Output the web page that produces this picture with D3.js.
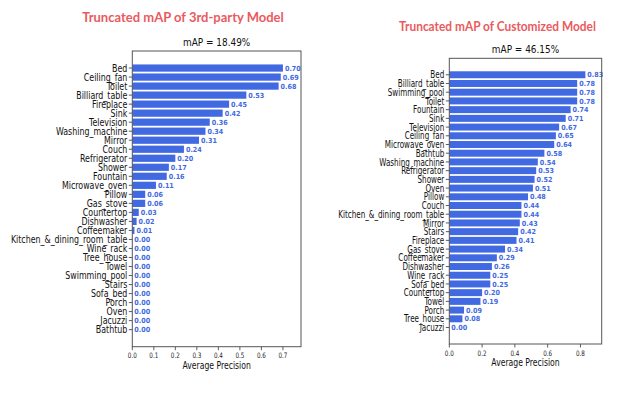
<!DOCTYPE html>
<html>
<head>
<meta charset="utf-8">
<script src="https://cdn.jsdelivr.net/npm/d3@7"></script>
<style>
  body { margin: 0; background: #fff; }
  svg text { font-family: "DejaVu Sans", sans-serif; }
</style>
</head>
<body>
<div id="chart"></div>
<script>
// --- data ---
const catsA = ["Bed", "Ceiling_fan", "Toilet", "Billiard_table", "Fireplace", "Sink", "Television",
  "Washing_machine", "Mirror", "Couch", "Refrigerator", "Shower", "Fountain", "Microwave_oven",
  "Pillow", "Gas_stove", "Countertop", "Dishwasher", "Coffeemaker", "Kitchen_&_dining_room_table",
  "Wine_rack", "Tree_house", "Towel", "Swimming_pool", "Stairs", "Sofa_bed", "Porch", "Oven",
  "Jacuzzi", "Bathtub"];
const valsA = [0.70, 0.69, 0.68, 0.53, 0.45, 0.42, 0.36, 0.34, 0.31, 0.24, 0.20, 0.17, 0.16, 0.11,
  0.06, 0.06, 0.03, 0.02, 0.01, 0, 0, 0, 0, 0, 0, 0, 0, 0, 0, 0];
const ticksA = [0, 0.1, 0.2, 0.3, 0.4, 0.5, 0.6, 0.7];

const catsB = ["Bed", "Billiard_table", "Swimming_pool", "Toilet", "Fountain", "Sink", "Television",
  "Ceiling_fan", "Microwave_oven", "Bathtub", "Washing_machine", "Refrigerator", "Shower", "Oven",
  "Pillow", "Couch", "Kitchen_&_dining_room_table", "Mirror", "Stairs", "Fireplace", "Gas_stove",
  "Coffeemaker", "Dishwasher", "Wine_rack", "Sofa_bed", "Countertop", "Towel", "Porch",
  "Tree_house", "Jacuzzi"];
const valsB = [0.83, 0.78, 0.78, 0.78, 0.74, 0.71, 0.67, 0.65, 0.64, 0.58, 0.54, 0.53, 0.52, 0.51,
  0.48, 0.44, 0.44, 0.43, 0.42, 0.41, 0.34, 0.29, 0.26, 0.25, 0.25, 0.20, 0.19, 0.09, 0.08, 0.00];
const ticksB = [0, 0.2, 0.4, 0.6, 0.8];

const titles = ["Truncated mAP of 3rd-party Model", "Truncated mAP of Customized Model"];
const subtitles = ["mAP = 18.49%", "mAP = 46.15%"];
const xLabel = "Average Precision";

const W = 623, H = 394;
const barColor = "#4169e1";
const titleColor = "#ea5a5e";

const svg = d3.select("#chart").append("svg")
  .attr("width", W).attr("height", H);

// squeeze text horizontally, anchored at its own x/y
function squeeze(sel, sx) {
  sel.each(function () {
    const t = d3.select(this);
    const x = +t.attr("x") || 0, y = +t.attr("y") || 0;
    t.attr("transform", `translate(${x},${y}) scale(${sx},1) translate(${-x},${-y})`);
  });
}

function drawPanel(p) {
  const x = d3.scaleLinear().domain([0, d3.max(p.vals) * 1.12]).range([p.left, p.right]);
  const n = p.cats.length;
  const pad = (n - 1 + 0.8) * 0.05;
  const y = d3.scaleLinear().domain([-0.4 - pad, n - 1 + 0.4 + pad]).range([p.top, p.bottom]);
  const bh = y(0.8) - y(0);

  const g = svg.append("g");

  // title + subtitle
  g.append("text")
    .attr("x", p.titleX).attr("y", p.titleY)
    .attr("text-anchor", "middle")
    .style("font-family", "Lato, sans-serif")
    .style("font-weight", "bold")
    .style("font-size", "14px")
    .attr("fill", titleColor)
    .text(p.title)
    .call(squeeze, p.titleSx);

  g.append("text")
    .attr("x", (p.left + p.right) / 2).attr("y", p.subY)
    .attr("text-anchor", "middle")
    .style("font-size", "10.5px")
    .attr("fill", "#111")
    .text(p.sub)
    .call(squeeze, 0.85);

  // bars
  g.selectAll("rect.bar").data(p.vals).join("rect")
    .attr("class", "bar")
    .attr("x", x(0))
    .attr("y", (d, i) => y(i) - bh / 2)
    .attr("width", d => x(d) - x(0))
    .attr("height", bh)
    .attr("fill", barColor);

  // value labels
  g.selectAll("text.val").data(p.vals).join("text")
    .attr("class", "val")
    .attr("x", d => x(d) + 2)
    .attr("y", (d, i) => y(i) + 2.6)
    .style("font-size", "7px")
    .style("font-weight", "bold")
    .attr("fill", barColor)
    .text(d => d.toFixed(2))
    .call(squeeze, 0.92);

  // y ticks + labels
  g.selectAll("line.ytick").data(p.cats).join("line")
    .attr("x1", p.left - 3.5).attr("x2", p.left)
    .attr("y1", (d, i) => y(i)).attr("y2", (d, i) => y(i))
    .attr("stroke", "#333").attr("stroke-width", 0.8);

  g.selectAll("text.ylab").data(p.cats).join("text")
    .attr("class", "ylab")
    .attr("x", p.left - 5)
    .attr("y", (d, i) => y(i) + 3.6)
    .attr("text-anchor", "end")
    .style("font-size", "10px")
    .attr("fill", "#111")
    .text(d => d)
    .call(squeeze, p.labSx);

  // x ticks + labels
  g.selectAll("line.xtick").data(p.ticks).join("line")
    .attr("x1", d => x(d)).attr("x2", d => x(d))
    .attr("y1", p.bottom).attr("y2", p.bottom + 3.5)
    .attr("stroke", "#333").attr("stroke-width", 0.8);

  g.selectAll("text.xlab").data(p.ticks).join("text")
    .attr("class", "xlab")
    .attr("x", d => x(d))
    .attr("y", p.tickY)
    .attr("text-anchor", "middle")
    .style("font-size", "7.5px")
    .attr("fill", "#222")
    .text(d => d.toFixed(1))
    .call(squeeze, 0.75);

  g.append("text")
    .attr("x", (p.left + p.right) / 2).attr("y", p.labY)
    .attr("text-anchor", "middle")
    .style("font-size", "10px")
    .attr("fill", "#111")
    .text(xLabel)
    .call(squeeze, 0.77);

  // frame
  g.append("rect")
    .attr("x", p.left).attr("y", p.top)
    .attr("width", p.right - p.left).attr("height", p.bottom - p.top)
    .attr("fill", "none").attr("stroke", "#555").attr("stroke-width", 1);
}

drawPanel({
  cats: catsA, vals: valsA, ticks: ticksA, title: titles[0], sub: subtitles[0],
  left: 132.3, right: 301, top: 51, bottom: 346.7,
  titleX: 183, titleY: 22.5, subY: 46.5, tickY: 358.3, labY: 368.7,
  titleSx: 0.93, labSx: 0.79
});

drawPanel({
  cats: catsB, vals: valsB, ticks: ticksB, title: titles[1], sub: subtitles[1],
  left: 449.3, right: 601.7, top: 58.3, bottom: 344,
  titleX: 497.5, titleY: 31, subY: 53, tickY: 356, labY: 365.7,
  titleSx: 0.85, labSx: 0.72
});
</script>
</body>
</html>
